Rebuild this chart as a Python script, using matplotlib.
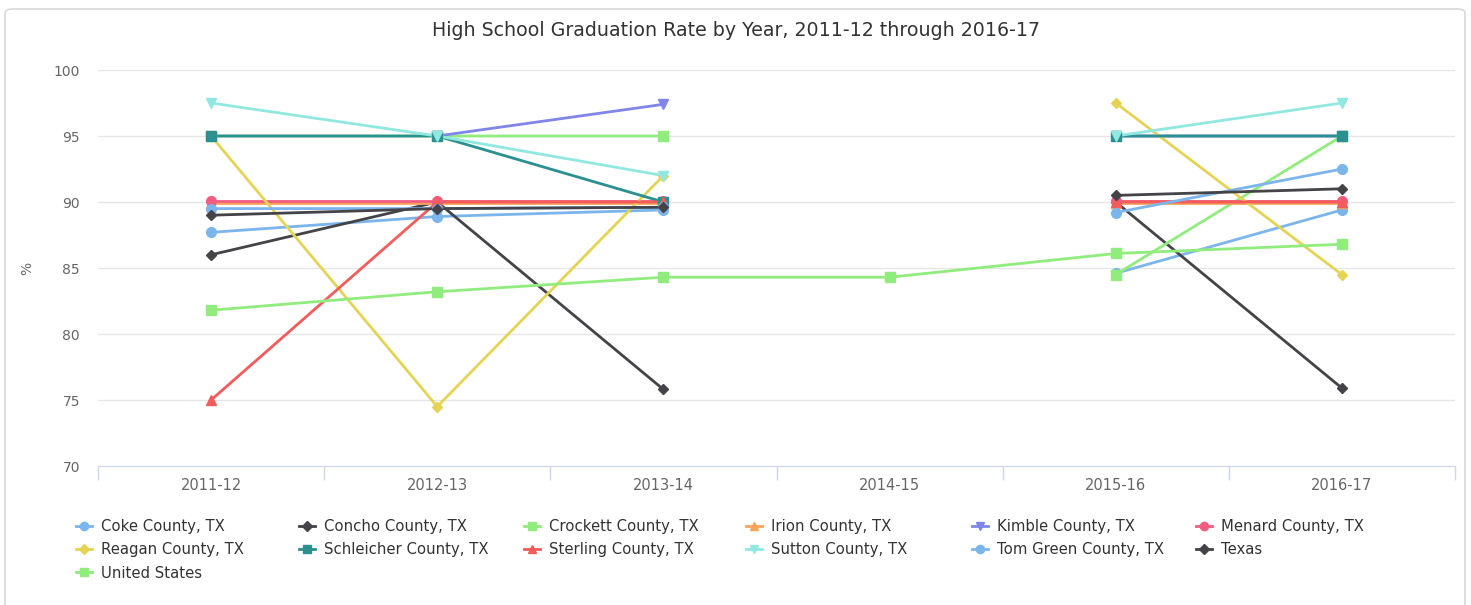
import matplotlib
matplotlib.use('Agg')
import matplotlib.pyplot as plt
from matplotlib.patches import FancyBboxPatch
from matplotlib.lines import Line2D
import numpy as np

years = ['2011-12', '2012-13', '2013-14', '2014-15', '2015-16', '2016-17']

N = None
coke       = [87.7, 88.9, 89.4, N, 84.6, 89.4]
concho     = [86.0, 90.0, 75.8, N, 90.0, 75.9]
crockett   = [95.0, 95.0, 95.0, N, 84.5, 95.0]
irion      = [89.9, 89.9, 89.9, N, 89.9, 89.9]
kimble     = [N, 95.0, 97.4, N, 95.0, 95.0]
menard     = [90.1, 90.1, 90.1, N, 90.1, 90.1]
reagan     = [95.0, 74.5, 92.0, N, 97.5, 84.5]
schleicher = [95.0, 95.0, 90.0, N, 95.0, 95.0]
sterling   = [75.0, 90.0, 90.0, N, 90.0, 90.0]
sutton     = [97.5, 95.0, 92.0, N, 95.0, 97.5]
tom_green  = [89.5, 89.5, 89.6, N, 89.2, 92.5]
texas      = [89.0, 89.5, 89.6, N, 90.5, 91.0]
us         = [81.8, 83.2, 84.3, 84.3, 86.1, 86.8]

series = [
    ('Coke County, TX', coke, '#7cb5ec', 'o'),
    ('Concho County, TX', concho, '#434348', 'D'),
    ('Crockett County, TX', crockett, '#90ed7d', 's'),
    ('Irion County, TX', irion, '#f7a35c', '^'),
    ('Kimble County, TX', kimble, '#8085e9', 'v'),
    ('Menard County, TX', menard, '#f15c80', 'o'),
    ('Reagan County, TX', reagan, '#e4d354', 'D'),
    ('Schleicher County, TX', schleicher, '#2b908f', 's'),
    ('Sterling County, TX', sterling, '#f45b5b', '^'),
    ('Sutton County, TX', sutton, '#91e8e1', 'v'),
    ('Tom Green County, TX', tom_green, '#7cb5ec', 'o'),
    ('Texas', texas, '#434348', 'D'),
    ('United States', us, '#90ed7d', 's'),
]

msize = {'o': 7, 'D': 5.5, 's': 6.5, '^': 7, 'v': 7}

W, H = 1471, 605
fig = plt.figure(figsize=(W / 100, H / 100), dpi=100)
ax = fig.add_axes([98 / W, 1 - 466 / H, (1455 - 98) / W, (466 - 70) / H])

# outer rounded frame
frame = FancyBboxPatch((5 / W, -0.05), (1465 - 5) / W, (H - 9) / H + 0.05,
                       boxstyle='round,pad=0,rounding_size=0.006',
                       transform=fig.transFigure, facecolor='none',
                       edgecolor='#d8d8d8', linewidth=1.2, zorder=-5)
fig.patches.append(frame)

x = np.arange(len(years))
handles = []
for i, (name, vals, color, mk) in enumerate(series):
    v = np.array([np.nan if a is None else a for a in vals], dtype=float)
    # missing years leave a gap in the line
    ax.plot(x, v, color=color, lw=2, zorder=3 + i * 0.01,
            solid_joinstyle='round')
    ax.plot(x, v, ls='none', marker=mk, ms=msize[mk], color=color,
            mec=color, zorder=3.5 + i * 0.01)
    handles.append(Line2D([], [], color=color, lw=2, marker=mk,
                          ms=msize[mk], label=name))

ax.set_xlim(-0.5, len(years) - 0.5)
ax.set_ylim(70, 100)
ax.set_yticks(np.arange(70, 101, 5))
ax.set_xticks(x)
ax.set_xticklabels(years)
ax.set_xticks(np.arange(-0.5, len(years), 1), minor=True)
ax.tick_params(axis='x', which='major', length=0, labelsize=10.5, colors='#666666', pad=9)
ax.tick_params(axis='x', which='minor', length=10, color='#ccd6eb', width=1)
ax.tick_params(axis='y', length=0, labelsize=10, colors='#666666', pad=13)
ax.grid(axis='y', color='#e6e6e6', lw=1)
ax.set_axisbelow(True)
for s in ['top', 'right', 'left']:
    ax.spines[s].set_visible(False)
ax.spines['bottom'].set_color('#ccd6eb')
ax.set_ylabel('%', color='#666666', fontsize=10, labelpad=14)

fig.text(736 / W, 1 - 30 / H, 'High School Graduation Rate by Year, 2011-12 through 2016-17',
         ha='center', va='center', fontsize=13.7, color='#333333')

# legend laid out in six evenly spaced columns, filled row by row
col_x = [76, 299, 524, 746, 972, 1196]
for c in range(6):
    hs = handles[c::6]
    fig.legend(handles=hs, labels=[h.get_label() for h in hs],
               loc='upper left', bbox_to_anchor=(col_x[c] / W, 1 - 519 / H),
               frameon=False, fontsize=10.7, labelcolor='#333333',
               handlelength=1.1, handletextpad=0.6, labelspacing=0.56,
               borderpad=0, borderaxespad=0, markerscale=0.85)

fig.savefig('out.png', dpi=100)
